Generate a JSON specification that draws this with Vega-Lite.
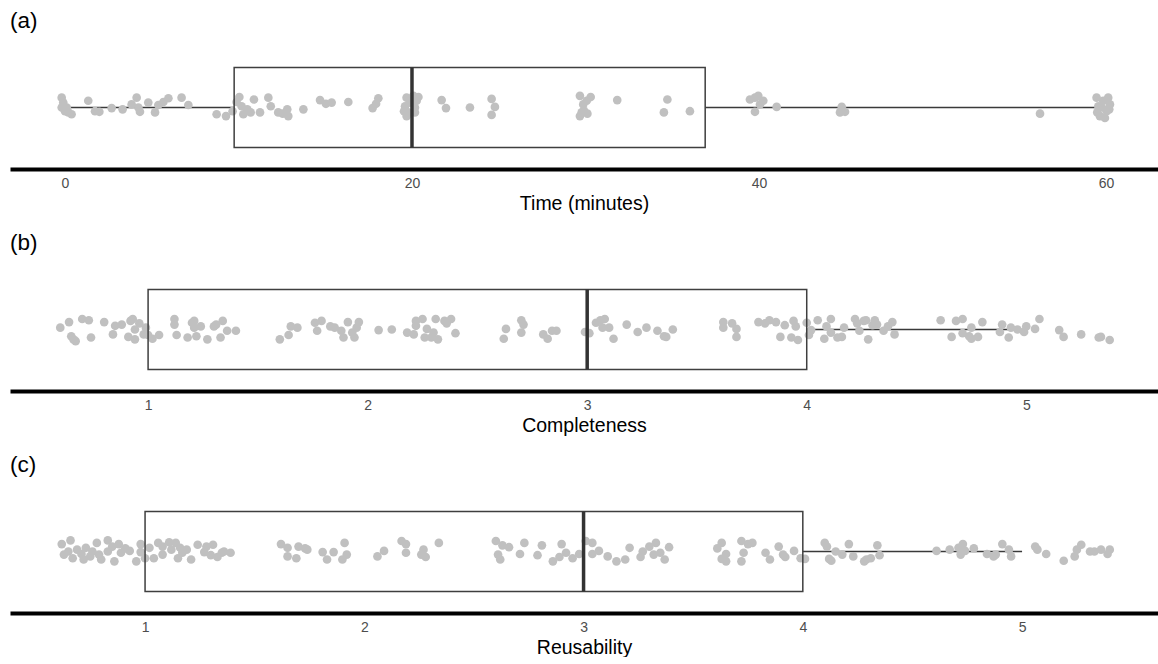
{
"$schema":"https://vega.github.io/schema/vega-lite/v6.json",
"background":"white",
"padding":{"left":10,"top":9,"right":0,"bottom":0},
"spacing":18,
"config":{"view":{"stroke":null},"font":"Liberation Sans",
"axis":{"grid":false,"ticks":false,"tickSize":0,"domainColor":"#000000","domainWidth":4,"labelColor":"#4d4d4d","labelFontSize":14,"labelPadding":7,"titleColor":"#000000","titleFontSize":19.5,"titleFontWeight":"normal","titlePadding":4,"labelFont":"Liberation Sans","titleFont":"Liberation Sans"},
"title":{"anchor":"start","fontSize":22.5,"fontWeight":"normal","color":"#000000","offset":14,"font":"Liberation Sans"}},
"datasets":{
"boxes":[
{"panel":"a","lo":0,"q1":9.75,"median":20,"q3":36.9,"hi":60},
{"panel":"b","lo":1,"q1":1,"median":3,"q3":4,"hi":5},
{"panel":"c","lo":1,"q1":1,"median":3,"q3":4,"hi":5}],
"time":[
{"value":-0.19,"jitter":0.16},{"value":-0.1,"jitter":0.08},{"value":-0.19,"jitter":0.0},{"value":0.0,"jitter":-0.06},{"value":0.19,"jitter":-0.08},{"value":0.38,"jitter":-0.11},{"value":0.1,"jitter":0.0},{"value":1.34,"jitter":0.11},{"value":1.73,"jitter":-0.06},{"value":1.98,"jitter":-0.07},{"value":2.69,"jitter":-0.01},{"value":3.32,"jitter":-0.03},{"value":3.84,"jitter":0.05},{"value":4.13,"jitter":0.16},{"value":4.23,"jitter":0.0},{"value":4.32,"jitter":-0.07},{"value":4.8,"jitter":0.08},{"value":5.19,"jitter":-0.08},{"value":5.38,"jitter":0.04},{"value":5.67,"jitter":0.09},{"value":5.96,"jitter":0.15},{"value":6.72,"jitter":0.16},{"value":7.11,"jitter":0.04},{"value":8.74,"jitter":-0.11},{"value":9.28,"jitter":-0.14},{"value":9.66,"jitter":-0.06},{"value":9.89,"jitter":0.09},{"value":10.05,"jitter":0.17},{"value":10.18,"jitter":0.02},{"value":10.28,"jitter":-0.11},{"value":10.51,"jitter":-0.03},{"value":10.7,"jitter":-0.08},{"value":10.89,"jitter":0.13},{"value":11.24,"jitter":-0.08},{"value":11.72,"jitter":0.16},{"value":11.86,"jitter":0.02},{"value":12.29,"jitter":-0.08},{"value":12.55,"jitter":-0.1},{"value":12.81,"jitter":-0.03},{"value":12.87,"jitter":-0.14},{"value":13.74,"jitter":-0.03},{"value":14.7,"jitter":0.12},{"value":15.04,"jitter":0.06},{"value":15.37,"jitter":0.08},{"value":16.33,"jitter":0.09},{"value":17.73,"jitter":-0.01},{"value":17.93,"jitter":0.06},{"value":18.06,"jitter":0.15},
{"value":19.69,"jitter":0.16},{"value":20.08,"jitter":0.19},{"value":20.37,"jitter":0.17},{"value":19.6,"jitter":0.02},{"value":19.54,"jitter":-0.06},{"value":19.69,"jitter":-0.14},{"value":20.17,"jitter":0.0},{"value":20.27,"jitter":0.11},{"value":19.88,"jitter":0.08},{"value":19.79,"jitter":-0.08},{"value":20.17,"jitter":-0.08},
{"value":21.71,"jitter":0.12},{"value":21.96,"jitter":-0.01},{"value":23.34,"jitter":0.0},{"value":24.59,"jitter":0.14},{"value":24.78,"jitter":0.01},{"value":24.59,"jitter":-0.12},
{"value":29.68,"jitter":0.19},{"value":30.3,"jitter":0.17},{"value":29.87,"jitter":0.05},{"value":30.07,"jitter":0.11},{"value":29.78,"jitter":-0.08},{"value":29.68,"jitter":-0.14},{"value":30.11,"jitter":-0.1},{"value":29.91,"jitter":-0.05},{"value":31.83,"jitter":0.12},{"value":34.72,"jitter":0.13},{"value":34.52,"jitter":-0.08},{"value":36.02,"jitter":-0.06},
{"value":39.48,"jitter":0.13},{"value":39.77,"jitter":0.16},{"value":39.96,"jitter":0.19},{"value":40.25,"jitter":0.11},{"value":40.06,"jitter":0.05},{"value":39.77,"jitter":-0.07},{"value":41.02,"jitter":0.01},
{"value":44.77,"jitter":0.01},{"value":44.67,"jitter":-0.08},{"value":44.96,"jitter":-0.07},{"value":56.2,"jitter":-0.1},
{"value":59.46,"jitter":0.16},{"value":60.13,"jitter":0.16},{"value":60.23,"jitter":0.05},{"value":59.84,"jitter":0.11},{"value":59.56,"jitter":0.02},{"value":60.04,"jitter":-0.06},{"value":59.65,"jitter":-0.14},{"value":59.94,"jitter":-0.17},{"value":59.5,"jitter":-0.08},{"value":60.19,"jitter":-0.03},{"value":59.77,"jitter":0.0}],
"completeness":[
{"value":0.60,"jitter":0.03},{"value":0.64,"jitter":0.12},{"value":0.65,"jitter":-0.11},{"value":0.66,"jitter":-0.16},{"value":0.67,"jitter":-0.19},{"value":0.70,"jitter":0.17},{"value":0.73,"jitter":0.15},{"value":0.74,"jitter":-0.13},{"value":0.80,"jitter":0.12},{"value":0.84,"jitter":-0.08},{"value":0.85,"jitter":0.06},{"value":0.88,"jitter":0.08},{"value":0.91,"jitter":-0.12},{"value":0.92,"jitter":0.14},{"value":0.93,"jitter":0.17},{"value":0.94,"jitter":0.0},{"value":0.94,"jitter":-0.16},{"value":0.96,"jitter":0.10},{"value":0.98,"jitter":-0.08},{"value":0.99,"jitter":0.03},{"value":1.00,"jitter":-0.09},{"value":1.02,"jitter":-0.15},{"value":1.05,"jitter":-0.09},{"value":1.12,"jitter":0.17},{"value":1.12,"jitter":0.08},{"value":1.13,"jitter":-0.09},{"value":1.18,"jitter":-0.13},{"value":1.20,"jitter":0.11},{"value":1.21,"jitter":0.03},{"value":1.22,"jitter":-0.11},{"value":1.24,"jitter":0.05},{"value":1.21,"jitter":0.14},{"value":1.27,"jitter":-0.16},{"value":1.30,"jitter":0.05},{"value":1.31,"jitter":0.08},{"value":1.33,"jitter":-0.13},{"value":1.34,"jitter":0.14},{"value":1.36,"jitter":-0.02},{"value":1.40,"jitter":-0.02},{"value":1.60,"jitter":-0.16},{"value":1.64,"jitter":-0.09},{"value":1.65,"jitter":0.05},{"value":1.68,"jitter":0.03},{"value":1.76,"jitter":0.11},{"value":1.79,"jitter":0.14},{"value":1.77,"jitter":-0.02},{"value":1.83,"jitter":0.05},{"value":1.85,"jitter":0.03},{"value":1.88,"jitter":-0.02},{"value":1.89,"jitter":-0.13},{"value":1.91,"jitter":0.12},{"value":1.93,"jitter":-0.05},{"value":1.95,"jitter":0.03},{"value":1.96,"jitter":0.12},{"value":1.94,"jitter":-0.13},{"value":2.05,"jitter":-0.01},{"value":2.11,"jitter":0.0},{"value":2.18,"jitter":-0.05},{"value":2.21,"jitter":-0.08},{"value":2.22,"jitter":0.06},{"value":2.22,"jitter":0.14},{"value":2.25,"jitter":0.17},{"value":2.27,"jitter":0.01},{"value":2.26,"jitter":-0.13},{"value":2.29,"jitter":-0.13},{"value":2.31,"jitter":0.17},{"value":2.30,"jitter":-0.05},{"value":2.32,"jitter":-0.16},{"value":2.35,"jitter":0.14},{"value":2.36,"jitter":0.10},{"value":2.38,"jitter":0.17},{"value":2.40,"jitter":-0.06},{"value":2.63,"jitter":0.01},{"value":2.62,"jitter":-0.15},{"value":2.70,"jitter":0.15},{"value":2.71,"jitter":0.08},{"value":2.70,"jitter":-0.05},{"value":2.80,"jitter":-0.08},{"value":2.82,"jitter":-0.15},{"value":2.84,"jitter":-0.02},{"value":2.86,"jitter":-0.02},{"value":2.99,"jitter":-0.04},{"value":3.01,"jitter":-0.06},{"value":3.04,"jitter":0.11},{"value":3.06,"jitter":0.15},{"value":3.08,"jitter":0.17},{"value":3.07,"jitter":0.03},{"value":3.10,"jitter":0.03},{"value":3.12,"jitter":-0.15},{"value":3.18,"jitter":0.08},{"value":3.23,"jitter":-0.04},{"value":3.27,"jitter":0.03},{"value":3.32,"jitter":-0.02},{"value":3.35,"jitter":-0.11},{"value":3.36,"jitter":-0.12},{"value":3.39,"jitter":0.0},{"value":3.62,"jitter":0.12},{"value":3.62,"jitter":0.03},{"value":3.66,"jitter":0.10},{"value":3.68,"jitter":0.01},{"value":3.68,"jitter":-0.12},{"value":3.78,"jitter":0.12},{"value":3.81,"jitter":0.10},{"value":3.83,"jitter":0.15},{"value":3.86,"jitter":0.12},{"value":3.88,"jitter":-0.12},{"value":3.90,"jitter":0.07},{"value":3.94,"jitter":0.14},{"value":3.95,"jitter":0.05},{"value":3.93,"jitter":-0.13},{"value":3.96,"jitter":-0.17},{"value":4.00,"jitter":0.11},{"value":4.01,"jitter":-0.09},{"value":4.02,"jitter":-0.01},{"value":4.05,"jitter":0.15},{"value":4.08,"jitter":-0.15},{"value":4.09,"jitter":0.05},{"value":4.11,"jitter":0.17},{"value":4.11,"jitter":-0.05},{"value":4.14,"jitter":-0.13},{"value":4.16,"jitter":-0.12},{"value":4.17,"jitter":0.03},{"value":4.22,"jitter":0.17},{"value":4.23,"jitter":0.10},{"value":4.24,"jitter":-0.02},{"value":4.26,"jitter":0.14},{"value":4.27,"jitter":0.15},{"value":4.28,"jitter":-0.16},{"value":4.30,"jitter":0.07},{"value":4.31,"jitter":0.15},{"value":4.32,"jitter":0.08},{"value":4.35,"jitter":-0.02},{"value":4.37,"jitter":0.05},{"value":4.39,"jitter":0.12},{"value":4.40,"jitter":-0.08},{"value":4.61,"jitter":0.15},{"value":4.66,"jitter":-0.12},{"value":4.68,"jitter":0.14},{"value":4.71,"jitter":0.17},{"value":4.71,"jitter":-0.06},{"value":4.74,"jitter":-0.11},{"value":4.75,"jitter":0.03},{"value":4.75,"jitter":-0.15},{"value":4.78,"jitter":-0.12},{"value":4.80,"jitter":0.12},{"value":4.88,"jitter":-0.04},{"value":4.89,"jitter":0.08},{"value":4.92,"jitter":-0.13},{"value":4.93,"jitter":0.03},{"value":4.96,"jitter":0.0},{"value":4.99,"jitter":-0.04},{"value":5.00,"jitter":0.05},{"value":5.04,"jitter":0.01},{"value":5.06,"jitter":0.17},{"value":5.15,"jitter":-0.01},{"value":5.17,"jitter":-0.12},{"value":5.25,"jitter":-0.08},{"value":5.33,"jitter":-0.13},{"value":5.34,"jitter":-0.12},{"value":5.38,"jitter":-0.17}],
"reusability":[
{"value":0.62,"jitter":0.12},{"value":0.66,"jitter":0.18},{"value":0.63,"jitter":-0.05},{"value":0.65,"jitter":0.0},{"value":0.67,"jitter":-0.11},{"value":0.69,"jitter":0.03},{"value":0.71,"jitter":-0.04},{"value":0.72,"jitter":-0.13},{"value":0.73,"jitter":0.06},{"value":0.75,"jitter":-0.08},{"value":0.76,"jitter":0.0},{"value":0.78,"jitter":0.14},{"value":0.79,"jitter":-0.05},{"value":0.80,"jitter":-0.13},{"value":0.83,"jitter":0.18},{"value":0.83,"jitter":0.0},{"value":0.85,"jitter":0.08},{"value":0.86,"jitter":-0.16},{"value":0.88,"jitter":0.12},{"value":0.89,"jitter":-0.02},{"value":0.91,"jitter":0.05},{"value":0.93,"jitter":0.01},{"value":0.96,"jitter":-0.16},{"value":0.98,"jitter":0.12},{"value":0.98,"jitter":-0.01},{"value":1.00,"jitter":-0.11},{"value":1.02,"jitter":0.06},{"value":1.04,"jitter":-0.11},{"value":1.06,"jitter":0.14},{"value":1.08,"jitter":0.08},{"value":1.08,"jitter":-0.05},{"value":1.11,"jitter":0.15},{"value":1.12,"jitter":0.03},{"value":1.14,"jitter":0.14},{"value":1.15,"jitter":-0.11},{"value":1.16,"jitter":0.06},{"value":1.17,"jitter":-0.02},{"value":1.19,"jitter":0.03},{"value":1.21,"jitter":-0.13},{"value":1.24,"jitter":0.11},{"value":1.27,"jitter":-0.01},{"value":1.28,"jitter":0.08},{"value":1.30,"jitter":-0.06},{"value":1.31,"jitter":0.11},{"value":1.33,"jitter":-0.09},{"value":1.35,"jitter":-0.02},{"value":1.36,"jitter":0.0},{"value":1.39,"jitter":-0.02},{"value":1.62,"jitter":0.12},{"value":1.65,"jitter":-0.08},{"value":1.65,"jitter":0.06},{"value":1.69,"jitter":-0.11},{"value":1.70,"jitter":0.08},{"value":1.73,"jitter":0.05},{"value":1.74,"jitter":0.03},{"value":1.81,"jitter":-0.01},{"value":1.83,"jitter":-0.13},{"value":1.86,"jitter":-0.01},{"value":1.90,"jitter":-0.13},{"value":1.91,"jitter":0.14},{"value":1.92,"jitter":-0.05},{"value":2.06,"jitter":-0.08},{"value":2.09,"jitter":0.01},{"value":2.17,"jitter":0.17},{"value":2.19,"jitter":0.12},{"value":2.19,"jitter":-0.02},{"value":2.27,"jitter":0.03},{"value":2.28,"jitter":-0.09},{"value":2.26,"jitter":-0.05},{"value":2.34,"jitter":0.14},{"value":2.60,"jitter":0.17},{"value":2.63,"jitter":0.10},{"value":2.66,"jitter":0.07},{"value":2.61,"jitter":-0.05},{"value":2.62,"jitter":-0.13},{"value":2.71,"jitter":-0.04},{"value":2.73,"jitter":0.14},{"value":2.79,"jitter":-0.06},{"value":2.81,"jitter":0.10},{"value":2.86,"jitter":-0.16},{"value":2.89,"jitter":-0.09},{"value":2.90,"jitter":0.12},{"value":2.92,"jitter":-0.02},{"value":2.95,"jitter":-0.11},{"value":2.98,"jitter":-0.04},{"value":3.01,"jitter":0.17},{"value":3.04,"jitter":0.14},{"value":3.04,"jitter":-0.04},{"value":3.07,"jitter":0.01},{"value":3.11,"jitter":-0.08},{"value":3.15,"jitter":-0.16},{"value":3.19,"jitter":-0.13},{"value":3.21,"jitter":0.06},{"value":3.26,"jitter":-0.09},{"value":3.27,"jitter":0.0},{"value":3.30,"jitter":0.08},{"value":3.32,"jitter":-0.05},{"value":3.33,"jitter":0.14},{"value":3.35,"jitter":-0.02},{"value":3.37,"jitter":-0.13},{"value":3.39,"jitter":0.07},{"value":3.61,"jitter":0.05},{"value":3.63,"jitter":0.14},{"value":3.63,"jitter":-0.12},{"value":3.65,"jitter":-0.04},{"value":3.65,"jitter":-0.16},{"value":3.72,"jitter":0.17},{"value":3.73,"jitter":-0.02},{"value":3.72,"jitter":-0.16},{"value":3.75,"jitter":0.12},{"value":3.77,"jitter":0.14},{"value":3.83,"jitter":-0.02},{"value":3.85,"jitter":-0.13},{"value":3.89,"jitter":0.08},{"value":3.91,"jitter":-0.05},{"value":3.92,"jitter":-0.09},{"value":3.96,"jitter":0.01},{"value":3.99,"jitter":-0.11},{"value":4.01,"jitter":-0.12},{"value":4.10,"jitter":0.14},{"value":4.11,"jitter":0.08},{"value":4.12,"jitter":-0.12},{"value":4.13,"jitter":-0.15},{"value":4.15,"jitter":0.0},{"value":4.18,"jitter":-0.05},{"value":4.21,"jitter":0.12},{"value":4.23,"jitter":-0.08},{"value":4.28,"jitter":-0.16},{"value":4.29,"jitter":-0.13},{"value":4.31,"jitter":-0.11},{"value":4.34,"jitter":0.10},{"value":4.35,"jitter":-0.06},{"value":4.61,"jitter":0.01},{"value":4.67,"jitter":0.03},{"value":4.71,"jitter":0.06},{"value":4.72,"jitter":-0.05},{"value":4.73,"jitter":0.12},{"value":4.74,"jitter":0.01},{"value":4.78,"jitter":0.05},{"value":4.84,"jitter":-0.04},{"value":4.87,"jitter":-0.08},{"value":4.88,"jitter":-0.05},{"value":4.91,"jitter":0.12},{"value":4.94,"jitter":0.03},{"value":4.95,"jitter":-0.08},{"value":5.06,"jitter":0.08},{"value":5.07,"jitter":0.03},{"value":5.11,"jitter":-0.04},{"value":5.19,"jitter":-0.15},{"value":5.24,"jitter":-0.08},{"value":5.25,"jitter":0.03},{"value":5.27,"jitter":0.11},{"value":5.31,"jitter":0.0},{"value":5.33,"jitter":0.0},{"value":5.36,"jitter":0.03},{"value":5.39,"jitter":-0.04},{"value":5.40,"jitter":0.03}]
},
"vconcat":[
{"width":1148,"height":123,"title":{"text":"(a)"},
"layer":[
{"data":{"name":"boxes"},"transform":[{"filter":"datum.panel==='a'"}],"mark":{"type":"rule","color":"#3a3a3a","strokeWidth":1.5},
"encoding":{"x":{"field":"lo","type":"quantitative","title":"Time (minutes)","scale":{"domain":[-3.17,63.0],"nice":false,"zero":false},"axis":{"values":[0,20,40,60],"format":"d"}},"x2":{"field":"q1"},"y":{"datum":0,"type":"quantitative","scale":{"domain":[-1,1]},"axis":null}}},
{"data":{"name":"boxes"},"transform":[{"filter":"datum.panel==='a'"}],"mark":{"type":"rule","color":"#3a3a3a","strokeWidth":1.5},
"encoding":{"x":{"field":"q3","type":"quantitative","title":"Time (minutes)"},"x2":{"field":"hi"},"y":{"datum":0,"type":"quantitative"}}},
{"data":{"name":"time"},"mark":{"type":"circle","size":75,"color":"#c0c0c0","opacity":1},
"encoding":{"x":{"field":"value","type":"quantitative","title":"Time (minutes)"},"y":{"field":"jitter","type":"quantitative"}}},
{"data":{"name":"boxes"},"transform":[{"filter":"datum.panel==='a'"}],"mark":{"type":"rect","fillOpacity":0,"stroke":"#3f3f3f","strokeWidth":1.5},
"encoding":{"x":{"field":"q1","type":"quantitative","title":"Time (minutes)"},"x2":{"field":"q3"},"y":{"datum":-0.65,"type":"quantitative"},"y2":{"datum":0.65}}},
{"data":{"name":"boxes"},"transform":[{"filter":"datum.panel==='a'"}],"mark":{"type":"rule","color":"#333333","strokeWidth":3.5},
"encoding":{"x":{"field":"median","type":"quantitative","title":"Time (minutes)"},"y":{"datum":-0.65,"type":"quantitative"},"y2":{"datum":0.65}}}
]},
{"width":1148,"height":123,"title":{"text":"(b)"},
"layer":[
{"data":{"name":"boxes"},"transform":[{"filter":"datum.panel==='b'"}],"mark":{"type":"rule","color":"#3a3a3a","strokeWidth":1.5},
"encoding":{"x":{"field":"lo","type":"quantitative","title":"Completeness","scale":{"domain":[0.371,5.60],"nice":false,"zero":false},"axis":{"values":[1,2,3,4,5],"format":"d"}},"x2":{"field":"q1"},"y":{"datum":0,"type":"quantitative","scale":{"domain":[-1,1]},"axis":null}}},
{"data":{"name":"boxes"},"transform":[{"filter":"datum.panel==='b'"}],"mark":{"type":"rule","color":"#3a3a3a","strokeWidth":1.5},
"encoding":{"x":{"field":"q3","type":"quantitative","title":"Completeness"},"x2":{"field":"hi"},"y":{"datum":0,"type":"quantitative"}}},
{"data":{"name":"completeness"},"mark":{"type":"circle","size":75,"color":"#c0c0c0","opacity":1},
"encoding":{"x":{"field":"value","type":"quantitative","title":"Completeness"},"y":{"field":"jitter","type":"quantitative"}}},
{"data":{"name":"boxes"},"transform":[{"filter":"datum.panel==='b'"}],"mark":{"type":"rect","fillOpacity":0,"stroke":"#3f3f3f","strokeWidth":1.5},
"encoding":{"x":{"field":"q1","type":"quantitative","title":"Completeness"},"x2":{"field":"q3"},"y":{"datum":-0.65,"type":"quantitative"},"y2":{"datum":0.65}}},
{"data":{"name":"boxes"},"transform":[{"filter":"datum.panel==='b'"}],"mark":{"type":"rule","color":"#333333","strokeWidth":3.5},
"encoding":{"x":{"field":"median","type":"quantitative","title":"Completeness"},"y":{"datum":-0.65,"type":"quantitative"},"y2":{"datum":0.65}}}
]},
{"width":1148,"height":123,"title":{"text":"(c)"},
"layer":[
{"data":{"name":"boxes"},"transform":[{"filter":"datum.panel==='c'"}],"mark":{"type":"rule","color":"#3a3a3a","strokeWidth":1.5},
"encoding":{"x":{"field":"lo","type":"quantitative","title":"Reusability","scale":{"domain":[0.384,5.62],"nice":false,"zero":false},"axis":{"values":[1,2,3,4,5],"format":"d"}},"x2":{"field":"q1"},"y":{"datum":0,"type":"quantitative","scale":{"domain":[-1,1]},"axis":null}}},
{"data":{"name":"boxes"},"transform":[{"filter":"datum.panel==='c'"}],"mark":{"type":"rule","color":"#3a3a3a","strokeWidth":1.5},
"encoding":{"x":{"field":"q3","type":"quantitative","title":"Reusability"},"x2":{"field":"hi"},"y":{"datum":0,"type":"quantitative"}}},
{"data":{"name":"reusability"},"mark":{"type":"circle","size":75,"color":"#c0c0c0","opacity":1},
"encoding":{"x":{"field":"value","type":"quantitative","title":"Reusability"},"y":{"field":"jitter","type":"quantitative"}}},
{"data":{"name":"boxes"},"transform":[{"filter":"datum.panel==='c'"}],"mark":{"type":"rect","fillOpacity":0,"stroke":"#3f3f3f","strokeWidth":1.5},
"encoding":{"x":{"field":"q1","type":"quantitative","title":"Reusability"},"x2":{"field":"q3"},"y":{"datum":-0.65,"type":"quantitative"},"y2":{"datum":0.65}}},
{"data":{"name":"boxes"},"transform":[{"filter":"datum.panel==='c'"}],"mark":{"type":"rule","color":"#333333","strokeWidth":3.5},
"encoding":{"x":{"field":"median","type":"quantitative","title":"Reusability"},"y":{"datum":-0.65,"type":"quantitative"},"y2":{"datum":0.65}}}
]}
]
}
